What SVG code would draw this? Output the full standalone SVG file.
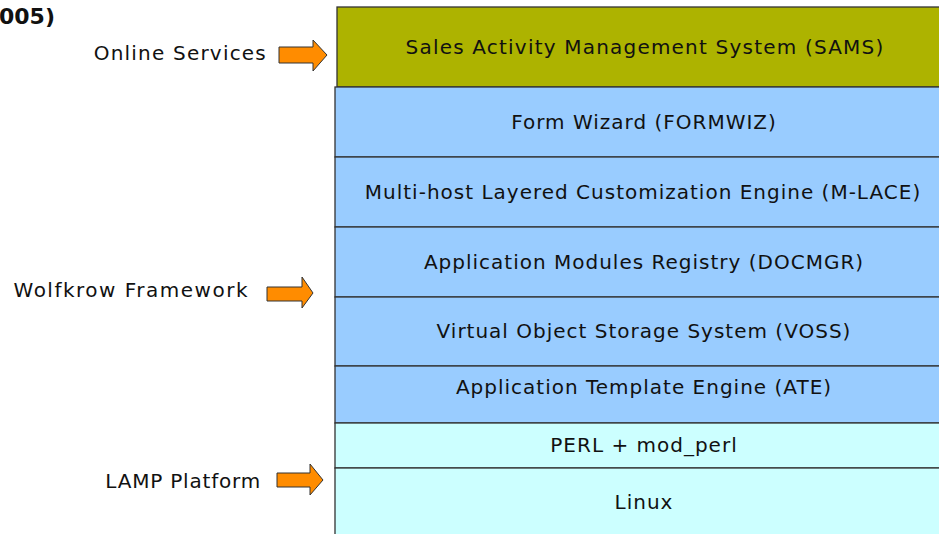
<svg xmlns="http://www.w3.org/2000/svg" width="939" height="534" viewBox="0 0 939 534">
<style>
text{font-family:"DejaVu Sans",sans-serif;font-size:20px;fill:#111;letter-spacing:1px}
.c{text-anchor:middle}
.l{text-anchor:end}
.box{stroke:#333;stroke-width:1.3}
.arr{fill:#FF8C00;stroke:#333;stroke-width:1}
</style>
<rect width="939" height="534" fill="#fff"/>
<text x="-1" y="24" style="font-weight:bold;font-size:22px;letter-spacing:0">005)</text>
<g id="sams"><rect class="box" x="337" y="7" width="604" height="80" fill="#ADB300"/><text class="c" x="645" y="54" style="letter-spacing:1.2px">Sales Activity Management System (SAMS)</text></g>
<g id="formwiz"><rect class="box" x="335" y="87" width="606" height="70" fill="#99CCFF"/><text class="c" x="644" y="129">Form Wizard (FORMWIZ)</text></g>
<g id="mlace"><rect class="box" x="335" y="157" width="606" height="70" fill="#99CCFF"/><text class="c" x="643" y="199">Multi-host Layered Customization Engine (M-LACE)</text></g>
<g id="docmgr"><rect class="box" x="335" y="227" width="606" height="70" fill="#99CCFF"/><text class="c" x="644" y="269">Application Modules Registry  (DOCMGR)</text></g>
<g id="voss"><rect class="box" x="335" y="297" width="606" height="69" fill="#99CCFF"/><text class="c" x="644" y="338">Virtual Object Storage System (VOSS)</text></g>
<g id="ate"><rect class="box" x="335" y="366" width="606" height="57" fill="#99CCFF"/><text class="c" x="644" y="394">Application Template Engine (ATE)</text></g>
<g id="perl"><rect class="box" x="335" y="423" width="606" height="45" fill="#CCFFFF"/><text class="c" x="644" y="452">PERL + mod_perl</text></g>
<g id="linux"><rect class="box" x="335" y="468" width="606" height="70" fill="#CCFFFF"/><text class="c" x="644" y="509">Linux</text></g>
<g id="online"><text class="l" x="267" y="60" style="letter-spacing:1.2px">Online Services</text></g>
<g id="wolfkrow"><text class="l" x="249" y="297" style="letter-spacing:1.5px">Wolfkrow Framework</text></g>
<g id="lamp"><text class="l" x="261" y="488" style="letter-spacing:0.8px">LAMP Platform</text></g>
<g id="connectors">
<polygon class="arr" points="279,47 313,47 313,40 327,55 313,71 313,63 279,63"/>
<polygon class="arr" points="267,287 302,287 302,277 313,293 302,308 302,301 267,301"/>
<polygon class="arr" points="277,473 310,473 310,464 323,480 310,495 310,487 277,487"/>
</g>
</svg>
